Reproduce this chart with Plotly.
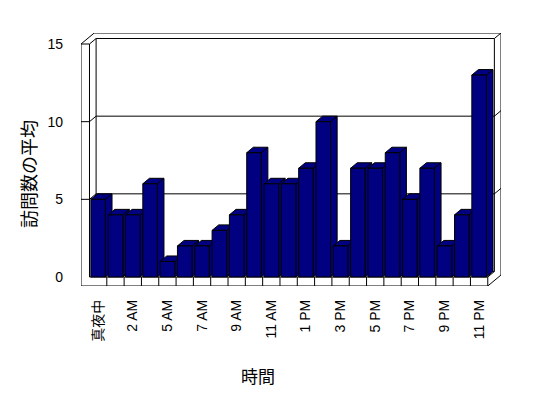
import plotly.graph_objects as go

# ---- data ----
categories = ["真夜中", "1 AM", "2 AM", "3 AM", "5 AM", "6 AM", "7 AM", "8 AM", "9 AM",
              "10 AM", "11 AM", "正午", "1 PM", "2 PM", "3 PM", "4 PM", "5 PM", "6 PM",
              "7 PM", "8 PM", "9 PM", "10 PM", "11 PM"]
visits = [5, 4, 4, 6, 1, 2, 2, 3, 4, 8, 6, 6, 7, 10, 2, 7, 7, 8, 5, 7, 2, 4, 13]
y_ticks = [0, 5, 10, 15]
x_title = "時間"
y_title = "訪問数の平均"

# ---- 3D geometry (data units) ----
n = len(categories)
idx = list(range(n))
X0, X1 = -0.5, n - 0.5          # front floor extent
TOP = y_ticks[-1]
W = 0.49                        # left wall thickness
F = 0.58                        # floor thickness
DX, DY = 0.382, 0.354           # depth offset
BW = 0.84                       # bar width
NAVY = "#000080"
LINE = dict(color="black", width=1)

xr = [X0 - W, X1 + 2 * DX]
yr = [-F, TOP + 2 * DY]

shapes = []


def poly(pts, fill="white"):
    d = "M " + " L ".join(f"{x},{y}" for x, y in pts) + " Z"
    shapes.append(dict(type="path", xref="x", yref="y", path=d, fillcolor=fill,
                       line=LINE, layer="below"))


def seg(xa, ya, xb, yb):
    shapes.append(dict(type="line", xref="x", yref="y", x0=xa, y0=ya, x1=xb, y1=yb,
                       line=LINE, layer="below"))


# outer silhouette of walls + floor
poly([(X0 - W, -F), (X0 - W, TOP), (X0 - W + 2 * DX, TOP + 2 * DY),
      (X1 + 2 * DX, TOP + 2 * DY), (X1 + 2 * DX, -F + 2 * DY), (X1, -F)])
# back wall front surface
poly([(X0 + DX, DY), (X0 + DX, TOP + DY), (X1 + DX, TOP + DY), (X1 + DX, DY)])
# left wall edges
seg(X0 - W, TOP, X0, TOP)
seg(X0, TOP, X0 + DX, TOP + DY)
seg(X0, 0, X0, TOP)
# right/top wall corner
seg(X1 + DX, TOP + DY, X1 + 2 * DX, TOP + 2 * DY)
# gridlines on back wall and value ticks on left wall
for v in y_ticks[1:-1]:
    seg(X0 + DX, v + DY, X1 + DX, v + DY)
    seg(X1 + DX, v + DY, X1 + 2 * DX, v + 2 * DY)
    seg(X0, v, X0 + DX, v + DY)
    seg(X0 - W, v, X0, v)
# floor
seg(X0, 0, X1, 0)
seg(X1, -F, X1, 0)
seg(X1, 0, X1 + DX, DY)
for i in idx[:-1]:
    seg(i + 0.5, -F, i + 0.5, 0)

fig = go.Figure()

# bar tops and sides (drawn left to right)
for i, v in zip(idx, visits):
    l, r = i - BW / 2, i + BW / 2
    xs = [l, l + DX, r + DX, r + DX, r, r, l, None, r, r + DX]
    ys = [v, v + DY, v + DY, DY, 0, v, v, None, v, v + DY]
    fig.add_trace(go.Scatter(x=xs, y=ys, mode="lines", fill="toself", fillcolor=NAVY,
                             line=LINE, hoverinfo="skip", showlegend=False))

# bar front faces on an overlaid axis so they sit above the sides
fig.add_trace(go.Bar(x=idx, y=visits, width=BW, yaxis="y2",
                     marker=dict(color=NAVY, line=LINE), showlegend=False,
                     hovertext=categories, hoverinfo="text+y"))

tick_font = dict(family="Liberation Sans, Noto Sans CJK JP", size=14, color="black")

# page body has an 8px margin, so the figure is 16px smaller than the window
fig.update_layout(
    width=532, height=382,
    margin=dict(l=73, r=39, t=25, b=104),
    paper_bgcolor="white", plot_bgcolor="white",
    shapes=shapes,
    xaxis=dict(range=xr, tickvals=idx[::2], ticktext=categories[::2], tickangle=-90,
               showgrid=False, zeroline=False, showline=False, ticks="",
               ticklabelstandoff=10, tickfont=tick_font, fixedrange=True,
               automargin=False),
    yaxis=dict(range=yr, tickvals=y_ticks, showgrid=False, zeroline=False,
               showline=False, ticks="", ticklabelstandoff=17, tickfont=tick_font,
               fixedrange=True, automargin=False),
    yaxis2=dict(range=yr, overlaying="y", visible=False, fixedrange=True,
                automargin=False),
    annotations=[
        dict(text=x_title, xref="paper", yref="paper", x=(258 - 81) / 420,
             y=(286 - 375.5) / 253, xanchor="center", yanchor="middle", showarrow=False,
             font=dict(family="Noto Sans CJK JP", size=17, color="black")),
        dict(text=y_title, xref="paper", yref="paper", x=(27.5 - 81) / 420,
             y=(286 - 174.5) / 253, xanchor="center", yanchor="middle", showarrow=False,
             textangle=-90,
             font=dict(family="Noto Sans CJK JP", size=18, color="black")),
    ],
)

fig.write_html("out.html")
